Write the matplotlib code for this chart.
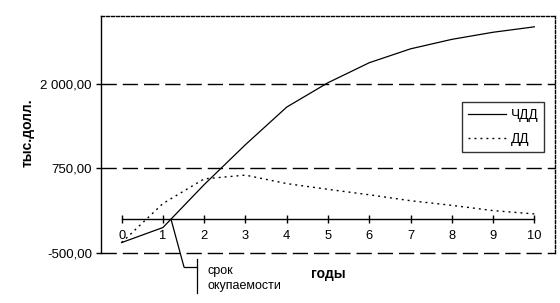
import numpy as np
import matplotlib
matplotlib.use("Agg")
import matplotlib.pyplot as plt
from matplotlib.lines import Line2D

plt.rcParams['font.family'] = ['Liberation Sans', 'DejaVu Sans']
plt.rcParams['lines.scale_dashes'] = False

# data (тыс.долл.)
years = [0, 1, 2, 3, 4, 5, 6, 7, 8, 9, 10]
npv = [-346, -124, 510, 1100, 1655, 2015, 2310, 2515, 2655, 2760, 2840]   # ЧДД
dd = [-346, 230, 595, 650, 525, 440, 360, 272, 204, 126, 77]              # ДД
y_ticks = [-500, 750, 2000]
y_tick_labels = ["-500,00", "750,00", "2 000,00"]

W, H = 560, 303
fig = plt.figure(figsize=(W / 100, H / 100), dpi=100)


def fpx(x, y):
    # pixel position -> figure fraction
    return (x / W, 1 - y / H)


ax = fig.add_axes([101 / W, 1 - 253 / H, 454 / W, 237 / H])
ax.set_xlim(-0.5, 10.5)
ax.set_ylim(-500, 3000)

# dashed gridlines (incl. the bottom one at -500)
for v in y_ticks:
    ax.axhline(v, color='black', lw=1.0, dashes=(11, 4.3), zorder=1, clip_on=False)

ax.plot(years, npv, color='black', lw=0.9, label='ЧДД', zorder=3)
ax.plot(years, dd, color='black', lw=1.0, dashes=(1.4, 2.9), label='ДД', zorder=3)

# spines
ax.spines['left'].set_linewidth(1.0)
ax.spines['left'].set_zorder(4)
for s in ['top', 'right']:
    ax.spines[s].set_linestyle((0, (2.2, 1.4)))
    ax.spines[s].set_linewidth(1.0)
ax.spines['bottom'].set_position(('data', 0))
ax.spines['bottom'].set_bounds(0, 10)
ax.spines['bottom'].set_linewidth(1.0)

ax.set_xticks(years)
ax.set_xticklabels([str(y) for y in years])
ax.tick_params(axis='x', direction='inout', length=6, width=1, pad=5, labelsize=9.3)
ax.set_yticks(y_ticks)
ax.set_yticklabels(y_tick_labels)
ax.tick_params(axis='y', direction='out', length=3.5, width=1, pad=3, labelsize=9.5)

fig.text(*fpx(28, 133), 'тыс.долл.', rotation=90, ha='center', va='center',
         fontsize=10, fontweight='bold')
fig.text(*fpx(328, 274), 'годы', ha='center', va='center', fontsize=10, fontweight='bold')

leg = ax.legend(loc='upper left', bbox_to_anchor=fpx(461.7, 101.7),
                bbox_transform=fig.transFigure, frameon=True, fancybox=False,
                fontsize=9.8, handlelength=2.8, handletextpad=0.35,
                labelspacing=0.75, borderpad=0.45, borderaxespad=0)
leg.get_frame().set_edgecolor('black')
leg.get_frame().set_linewidth(1.0)

# payback period leader
payback = 1 + (-npv[1]) / (npv[2] - npv[1])
ax.annotate('', xy=(payback, 0), xycoords='data',
            xytext=fpx(184, 267), textcoords='figure fraction',
            arrowprops=dict(arrowstyle='-', color='black', lw=0.9,
                            shrinkA=0, shrinkB=0))
fig.add_artist(Line2D(*zip(fpx(184, 267), fpx(196.5, 267)),
                      transform=fig.transFigure, color='black', lw=0.9))
fig.add_artist(Line2D(*zip(fpx(196.5, 259), fpx(196.5, 293)),
                      transform=fig.transFigure, color='black', lw=0.9))
fig.text(*fpx(207.5, 271), 'срок', ha='left', va='center', fontsize=9)
fig.text(*fpx(207.5, 286), 'окупаемости', ha='left', va='center', fontsize=9)

fig.savefig('out.png', dpi=100)
